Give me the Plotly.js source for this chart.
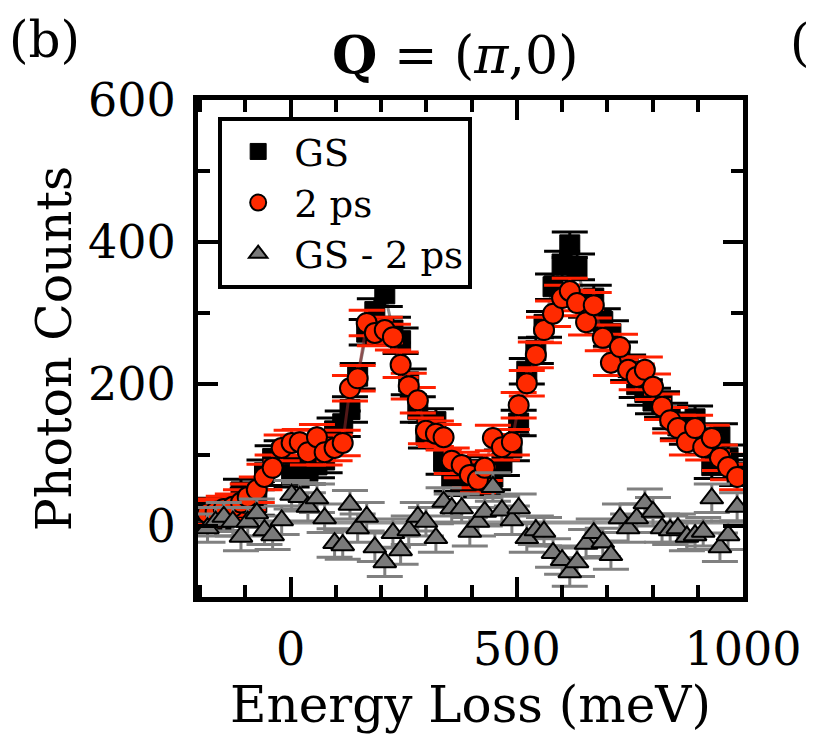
<!DOCTYPE html>
<html>
<head>
<meta charset="utf-8">
<script src="https://cdn.plot.ly/plotly-3.0.1.min.js"></script>
<style>html,body{margin:0;padding:0;background:#fff;}#chart{width:813px;height:737px;}</style>
</head>
<body>
<div id="chart"></div>
<script>
// Energy loss (meV)
const energy = [-184,-166,-148,-128,-110,-95,-75,-58,-40,-20,2,20,38,58,75,97,115,131,148,168,186,208,226,243,261,281,299,321,338,356,378,396,414,429,447,467,489,504,522,542,560,580,600,617,633,653,670,690,708,728,746,765,783,801,821,839,856,876,894,912,931,949,967,987];
// Ground state counts
const gsCounts = [21,14,11,21,48,35,33,75,95,102,73,77,77,86,93,134,144,164,211,273,302,327,276,261,203,164,128,147,91,67,61,80,59,62,69,89,110,145,218,247,284,337,369,396,365,312,321,288,271,241,223,199,188,176,171,155,141,133,151,119,85,126,96,75];
// 2 ps counts
const ps2Counts = [18,20,24,27,33,41,51,69,82,110,117,118,104,125,104,110,117,194,208,286,272,276,266,227,197,177,134,130,125,92,86,72,65,82,124,111,118,170,201,241,276,299,321,331,314,287,311,265,230,252,220,210,220,196,168,149,138,118,138,111,124,96,83,69];
// difference
const diffCounts = [-3,6,13,6,-15,6,18,-6,-13,8,44,41,27,39,11,-24,-27,30,-3,13,-30,-51,-10,-34,-6,13,6,-17,34,25,25,-8,6,20,55,22,8,25,-17,-6,-8,-38,-48,-65,-51,-25,-10,-23,-41,11,-3,11,32,20,-3,-6,-3,-15,-13,-8,39,-30,-13,27];
// error bar sizes
const gsErr = 18;
const ps2Err = 18;
const diffErr = 20;
// flat guide line for the difference
const guideX = [-205, 1000];
const guideY = [5, 5];

const serif = 'DejaVu Serif, serif';

const traces = [
  {x: guideX, y: guideY, mode: 'lines', line: {color: 'rgba(120,120,120,0.8)', width: 4}, showlegend: false, hoverinfo: 'skip'},
  {x: energy, y: gsCounts, mode: 'lines', line: {color: 'rgba(110,110,110,0.8)', width: 3}, showlegend: false, hoverinfo: 'skip'},
  {x: energy, y: gsCounts, name: 'GS', mode: 'markers',
   marker: {symbol: 'square', size: 20, color: '#000', line: {color: '#000', width: 1}},
   error_y: {type: 'constant', value: gsErr, color: '#000', thickness: 3, width: 18}},
  {x: energy, y: ps2Counts, mode: 'lines', line: {color: 'rgba(140,40,40,0.6)', width: 3}, showlegend: false, hoverinfo: 'skip'},
  {x: energy, y: ps2Counts, name: '2 ps', mode: 'markers',
   marker: {symbol: 'circle', size: 20, color: '#ff2a00', line: {color: '#000', width: 2}},
   error_y: {type: 'constant', value: ps2Err, color: '#ff2000', thickness: 3, width: 18}},
  {x: energy, y: diffCounts, name: 'GS - 2 ps', mode: 'markers',
   marker: {symbol: 'triangle-up', size: 20, color: '#7a7a7a', line: {color: '#000', width: 2}},
   error_y: {type: 'constant', value: diffErr, color: '#808080', thickness: 3, width: 18}}
];

const axisCommon = {
  showline: true, linewidth: 5, linecolor: '#000', mirror: 'allticks',
  ticks: 'inside', ticklen: 20, tickwidth: 4, tickcolor: '#000',
  showgrid: false, zeroline: false,
  tickfont: {family: serif, size: 46, color: '#000'}
};

const layout = {
  width: 813, height: 737,
  margin: {l: 198, r: 70, t: 100, b: 140},
  paper_bgcolor: '#fff', plot_bgcolor: '#fff',
  showlegend: true,
  title: {text: '<b>Q</b> = (<i>π</i>,0)', font: {family: serif, size: 52, color: '#000'},
          x: 0.56, xref: 'container', xanchor: 'center', y: 0.925, yref: 'container', yanchor: 'middle'},
  xaxis: Object.assign({}, axisCommon, {
    range: [-205, 1000], tickvals: [0, 500, 1000], ticktext: ['0', '500', '1000'],
    minor: {ticks: 'inside', ticklen: 12, tickwidth: 4, tickcolor: '#000', dtick: 100, tick0: 0},
    ticklabelstandoff: 8,
    title: {text: 'Energy Loss (meV)', font: {family: serif, size: 50, color: '#000'}, standoff: 6}
  }),
  yaxis: Object.assign({}, axisCommon, {
    range: [-100, 600], tickvals: [0, 200, 400, 600],
    minor: {ticks: 'inside', ticklen: 12, tickwidth: 4, tickcolor: '#000', dtick: 100, tick0: 0},
    ticklabelstandoff: 8,
    title: {text: 'Photon Counts', font: {family: serif, size: 49, color: '#000'}, standoff: 2}
  }),
  legend: {
    x: 0.037, y: 0.966, xanchor: 'left', yanchor: 'top',
    bgcolor: '#fff', bordercolor: '#000', borderwidth: 4,
    font: {family: serif, size: 37, color: '#000'},
    itemsizing: 'trace', tracegroupgap: 0, itemwidth: 62
  },
  annotations: [
    {text: '(b)', xref: 'paper', yref: 'paper', x: -0.282, y: 1.12, xanchor: 'center', yanchor: 'middle',
     showarrow: false, font: {family: serif, size: 50, color: '#000'}},
    {text: '(', xref: 'paper', yref: 'paper', x: 1.126, y: 1.115, xanchor: 'right', yanchor: 'middle',
     showarrow: false, font: {family: serif, size: 50, color: '#000'}}
  ]
};

Plotly.newPlot('chart', traces, layout, {displayModeBar: false, staticPlot: true});
</script>
</body>
</html>
